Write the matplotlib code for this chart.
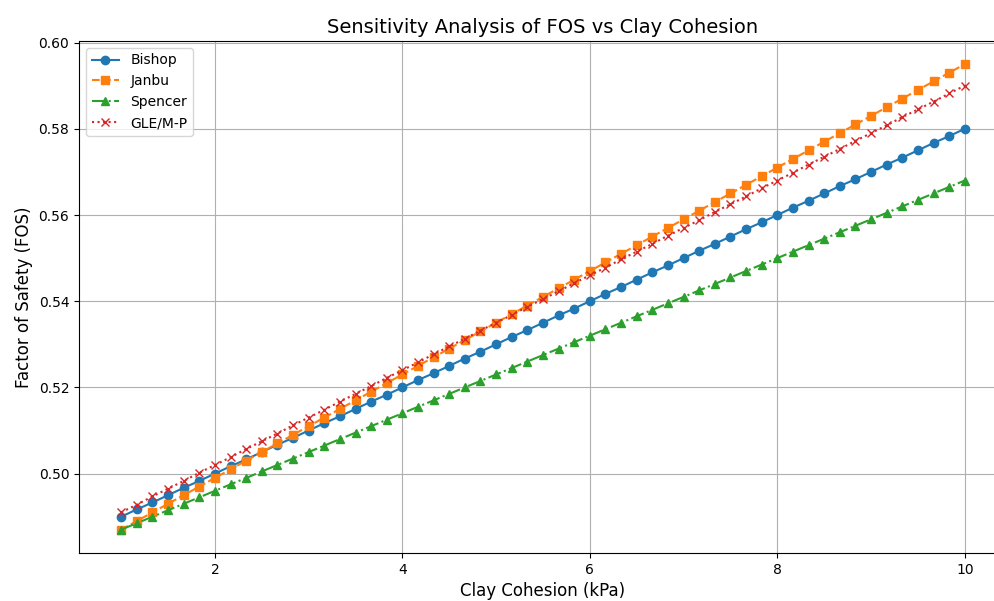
import matplotlib
matplotlib.use('Agg')
import matplotlib.pyplot as plt

cohesion = [1.0, 1.1667, 1.3333, 1.5, 1.6667, 1.8333, 2.0, 2.1667, 2.3333, 2.5, 2.6667, 2.8333,
            3.0, 3.1667, 3.3333, 3.5, 3.6667, 3.8333, 4.0, 4.1667, 4.3333, 4.5, 4.6667, 4.8333,
            5.0, 5.1667, 5.3333, 5.5, 5.6667, 5.8333, 6.0, 6.1667, 6.3333, 6.5, 6.6667, 6.8333,
            7.0, 7.1667, 7.3333, 7.5, 7.6667, 7.8333, 8.0, 8.1667, 8.3333, 8.5, 8.6667, 8.8333,
            9.0, 9.1667, 9.3333, 9.5, 9.6667, 9.8333, 10.0]

bishop = [0.4900, 0.4917, 0.4933, 0.4950, 0.4967, 0.4983, 0.5000, 0.5017, 0.5033, 0.5050, 0.5067,
          0.5083, 0.5100, 0.5117, 0.5133, 0.5150, 0.5167, 0.5183, 0.5200, 0.5217, 0.5233, 0.5250,
          0.5267, 0.5283, 0.5300, 0.5317, 0.5333, 0.5350, 0.5367, 0.5383, 0.5400, 0.5417, 0.5433,
          0.5450, 0.5467, 0.5483, 0.5500, 0.5517, 0.5533, 0.5550, 0.5567, 0.5583, 0.5600, 0.5617,
          0.5633, 0.5650, 0.5667, 0.5683, 0.5700, 0.5717, 0.5733, 0.5750, 0.5767, 0.5783, 0.5800]

janbu = [0.487, 0.489, 0.491, 0.493, 0.495, 0.497, 0.499, 0.501, 0.503, 0.505, 0.507, 0.509,
         0.511, 0.513, 0.515, 0.517, 0.519, 0.521, 0.523, 0.525, 0.527, 0.529, 0.531, 0.533,
         0.535, 0.537, 0.539, 0.541, 0.543, 0.545, 0.547, 0.549, 0.551, 0.553, 0.555, 0.557,
         0.559, 0.561, 0.563, 0.565, 0.567, 0.569, 0.571, 0.573, 0.575, 0.577, 0.579, 0.581,
         0.583, 0.585, 0.587, 0.589, 0.591, 0.593, 0.595]

spencer = [0.4870, 0.4885, 0.4900, 0.4915, 0.4930, 0.4945, 0.4960, 0.4975, 0.4990, 0.5005, 0.5020,
           0.5035, 0.5050, 0.5065, 0.5080, 0.5095, 0.5110, 0.5125, 0.5140, 0.5155, 0.5170, 0.5185,
           0.5200, 0.5215, 0.5230, 0.5245, 0.5260, 0.5275, 0.5290, 0.5305, 0.5320, 0.5335, 0.5350,
           0.5365, 0.5380, 0.5395, 0.5410, 0.5425, 0.5440, 0.5455, 0.5470, 0.5485, 0.5500, 0.5515,
           0.5530, 0.5545, 0.5560, 0.5575, 0.5590, 0.5605, 0.5620, 0.5635, 0.5650, 0.5665, 0.5680]

gle = [0.4910, 0.4928, 0.4947, 0.4965, 0.4983, 0.5002, 0.5020, 0.5038, 0.5057, 0.5075, 0.5093,
       0.5112, 0.5130, 0.5148, 0.5167, 0.5185, 0.5203, 0.5222, 0.5240, 0.5258, 0.5277, 0.5295,
       0.5313, 0.5332, 0.5350, 0.5368, 0.5387, 0.5405, 0.5423, 0.5442, 0.5460, 0.5478, 0.5497,
       0.5515, 0.5533, 0.5552, 0.5570, 0.5588, 0.5607, 0.5625, 0.5643, 0.5662, 0.5680, 0.5698,
       0.5717, 0.5735, 0.5753, 0.5772, 0.5790, 0.5808, 0.5827, 0.5845, 0.5863, 0.5882, 0.5900]

fig, ax = plt.subplots(figsize=(9.95, 6.01), dpi=100)
ax.plot(cohesion, bishop, marker='o', linestyle='-', label='Bishop')
ax.plot(cohesion, janbu, marker='s', linestyle='--', label='Janbu')
ax.plot(cohesion, spencer, marker='^', linestyle='-.', label='Spencer')
ax.plot(cohesion, gle, marker='x', linestyle=':', label='GLE/M-P')

ax.set_title('Sensitivity Analysis of FOS vs Clay Cohesion', fontsize=14)
ax.set_xlabel('Clay Cohesion (kPa)', fontsize=12)
ax.set_ylabel('Factor of Safety (FOS)', fontsize=12)
ax.legend(loc='upper left')
ax.grid(True)

# the axes runs a little past the right edge of the picture, as in the reference
fig.subplots_adjust(left=0.0794, right=1.012, bottom=0.08, top=0.932)
fig.savefig('out.png', dpi=100)
